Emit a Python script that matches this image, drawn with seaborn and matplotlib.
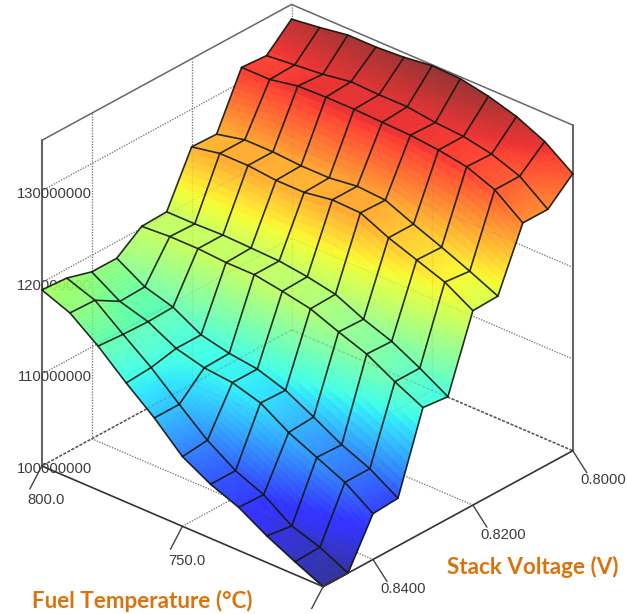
import numpy as np
import matplotlib
matplotlib.use("Agg")
import matplotlib.pyplot as plt
import seaborn as sns
from mpl_toolkits.mplot3d import proj3d

# ---- data, z in millions ----
fuel_temp = [800, 790, 780, 770, 760, 750, 740, 730, 720, 710, 700]
stack_voltage = [0.800, 0.805, 0.810, 0.815, 0.820, 0.825, 0.830, 0.835, 0.840, 0.845, 0.850]
z_v0800 = [133.9, 134.3, 134.8, 134.8, 135.0, 135.4, 135.3, 134.7, 133.8, 132.4, 130.2]
z_v0805 = [131.4, 131.7, 132.0, 132.5, 132.4, 132.4, 132.0, 131.8, 131.2, 130.1, 127.8]
z_v0810 = [131.6, 131.6, 132.2, 132.3, 132.3, 132.2, 132.1, 131.8, 131.3, 130.1, 127.8]
z_v0815 = [125.8, 126.5, 126.5, 126.3, 126.3, 126.7, 126.5, 125.2, 124.0, 122.7, 121.3]
z_v0820 = [125.9, 126.5, 126.5, 126.2, 126.2, 126.7, 126.6, 125.2, 124.1, 123.0, 121.2]
z_v0825 = [120.3, 120.3, 120.4, 120.3, 120.2, 119.8, 119.2, 117.8, 116.7, 115.1, 113.3]
z_v0830 = [120.2, 120.4, 120.4, 120.2, 120.2, 119.7, 119.1, 117.9, 116.8, 115.1, 113.6]
z_v0835 = [118.2, 116.4, 115.5, 113.8, 113.1, 112.7, 111.7, 110.1, 108.4, 107.1, 105.2]
z_v0840 = [118.2, 116.3, 115.4, 113.8, 113.0, 112.7, 111.8, 109.9, 108.5, 107.1, 105.0]
z_v0845 = [119.0, 117.9, 115.5, 113.2, 110.5, 107.9, 105.9, 104.6, 102.5, 101.5, 100.0]
z_v0850 = [119.2, 118.0, 115.7, 113.0, 110.5, 107.6, 105.9, 104.7, 102.9, 101.4, 100.0]
z_ticks = [100, 110, 120, 130]
temp_ticks = [800.0, 750.0]
volt_ticks = [0.80, 0.82, 0.84]

T_MIN, T_MAX = 700, 800
V_MIN, V_MAX = 0.80, 0.85
Z_MIN, Z_MAX = 100, 135.9
Z_TOP = 135.5

sns.set_theme(style="white")
plt.rcParams["font.family"] = ["Liberation Sans", "DejaVu Sans"]
jet = matplotlib.colormaps["jet"]

Z = np.array([z_v0800, z_v0805, z_v0810, z_v0815, z_v0820, z_v0825,
              z_v0830, z_v0835, z_v0840, z_v0845, z_v0850])
T = np.array(fuel_temp, float)
V = np.array(stack_voltage, float)

# finer facets only so that the colour runs smoothly inside each cell
N = 10
iv = np.linspace(0, len(V) - 1, (len(V) - 1) * N + 1)
it = np.linspace(0, len(T) - 1, (len(T) - 1) * N + 1)
Zf = np.array([np.interp(it, np.arange(len(T)), row) for row in Z])
Zf = np.array([np.interp(iv, np.arange(len(V)), col) for col in Zf.T]).T
Vf = np.interp(iv, np.arange(len(V)), V)
Tf = np.interp(it, np.arange(len(T)), T)
TT, VV = np.meshgrid(Tf, Vf)
col = jet((Zf - Zf.min()) / (Zf.max() - Zf.min()))
# the surface reads as 80 % opaque: blended over white, and truly translucent
# in the corner that lies over the 120000000 label
see_through = (TT >= 780) & (VV >= 0.835)
col[..., :3] = np.where(see_through[..., None], col[..., :3], col[..., :3] * 0.8 + 0.2)
col[..., 3] = np.where(see_through, 0.8, 1.0)

W, H = 627, 614
fig = plt.figure(figsize=(W / 100, H / 100), dpi=100, facecolor="white")
L = 614
ax = fig.add_axes([-8 / W, 5 / H, L / W, L / H], projection="3d", computed_zorder=False)
ax.set_proj_type("ortho")
ax.view_init(elev=28.9, azim=131.6)
ax.set_xlim(T_MIN, T_MAX)
ax.set_ylim(V_MIN, V_MAX)
ax.set_zlim(Z_MIN, Z_MAX)
ax.set_box_aspect((1, 1, 1), zoom=1.03)
ax.set_xticks([])
ax.set_yticks([])
ax.set_zticks([])
ax.set_axis_off()
ax.patch.set_alpha(0)

GRID = dict(color="#777777", lw=0.9, ls=(0, (1, 1.2)))
BACK = dict(color="#555555", lw=1.1, ls=(0, (2, 1)))
FRAME = dict(color="#666666", lw=1.5, zorder=1.5)
FLOOR = dict(color="#333333", lw=1.2, zorder=5)
TICK = dict(color="#444444", lw=1.0, zorder=5)
TXT = dict(color="#3c3c3c", fontsize=10.6, ha="center", va="center")


def label(t, v, z, s, zorder):
    """Label at a data position, placed through the axes' own projection."""
    x2, y2, _ = proj3d.proj_transform(t, v, z, ax.get_proj())
    ax.text2D(x2, y2, s, transform=ax.transData, zorder=zorder, clip_on=False, **TXT)


def back_lines(**style):
    """Walls' and floor's grid: drawn under the surface, and faintly through it."""
    for z in z_ticks[1:]:
        ax.plot([T_MAX, T_MAX], [V_MAX, V_MIN], [z, z], **GRID, **style)
        ax.plot([T_MAX, T_MIN], [V_MIN, V_MIN], [z, z], **GRID, **style)
    for v in volt_ticks[1:]:
        ax.plot([T_MAX, T_MAX], [v, v], [Z_MIN, Z_TOP], **GRID, **style)
        ax.plot([T_MAX, T_MIN], [v, v], [Z_MIN, Z_MIN], **GRID, **style)
    ax.plot([750, 750], [V_MIN, V_MIN], [Z_MIN, Z_TOP], **GRID, **style)
    ax.plot([750, 750], [V_MIN, V_MAX], [Z_MIN, Z_MIN], **GRID, **style)
    ax.plot([T_MAX, T_MAX], [V_MIN, V_MIN], [Z_MIN, Z_TOP], **GRID, **style)
    ax.plot([T_MAX, T_MAX], [V_MIN, V_MAX], [Z_MIN, Z_MIN], **BACK, **style)
    ax.plot([T_MAX, T_MIN], [V_MIN, V_MIN], [Z_MIN, Z_MIN], **BACK, **style)


back_lines(zorder=1)

# frame
ax.plot([T_MAX, T_MAX], [V_MAX, V_MAX], [Z_MIN, Z_TOP], **FRAME)
ax.plot([T_MIN, T_MIN], [V_MIN, V_MIN], [Z_MIN, Z_TOP], **FRAME)
ax.plot([T_MAX, T_MAX], [V_MAX, V_MIN], [Z_TOP, Z_TOP], color="#666666", lw=1.1, zorder=1.5)
ax.plot([T_MAX, T_MIN], [V_MIN, V_MIN], [Z_TOP, Z_TOP], color="#666666", lw=1.1, zorder=1.5)

# z labels sit beneath the translucent surface
for z in z_ticks:
    label(T_MAX, V_MAX - 0.0026, z - 1.1, f"{z * 1000000:d}", 2)

ax.plot_surface(TT, VV, Zf, facecolors=col, rstride=1, cstride=1, shade=False,
                linewidth=0.5, antialiased=True, zorder=3)

back_lines(zorder=3.5, alpha=0.22)

# mesh
for i in range(len(V)):
    ax.plot(T, np.full_like(T, V[i]), Z[i], color="#12180f", lw=1.2, alpha=0.9, zorder=4)
for k in range(len(T)):
    ax.plot(np.full_like(V, T[k]), V, Z[:, k], color="#12180f", lw=1.2, alpha=0.9, zorder=4)

# floor front edges and ticks
ax.plot([T_MAX, T_MIN], [V_MAX, V_MAX], [Z_MIN, Z_MIN], **FLOOR)
ax.plot([T_MIN, T_MIN], [V_MAX, V_MIN], [Z_MIN, Z_MIN], **FLOOR)
for t in temp_ticks + [700.0]:
    ax.plot([t, t], [V_MAX, V_MAX + 0.0024], [Z_MIN, Z_MIN - 1.8], **TICK)
for t in temp_ticks:
    label(t, V_MAX - 0.0008, Z_MIN - 4.0, f"{t:.1f}", 6)
for v in volt_ticks:
    ax.plot([T_MIN, T_MIN - 5], [v, v], [Z_MIN, Z_MIN - 1.75], **TICK)
    label(T_MIN - 10.8, v, Z_MIN - 1.8, f"{v:.4f}", 6)

# axis titles
ORANGE = "#d9730d"
fig.text(533 / W, 1 - 567 / H, "Stack Voltage (V)", color=ORANGE, fontsize=16.2, fontweight="bold",
         family=["Lato", "DejaVu Sans"], ha="center", va="center")
fig.text(142 / W, 1 - 601 / H, "Fuel Temperature (°C)", color=ORANGE, fontsize=16.2, fontweight="bold",
         family=["Lato", "DejaVu Sans"], ha="center", va="center")

fig.savefig("out.png", dpi=100, facecolor="white")
